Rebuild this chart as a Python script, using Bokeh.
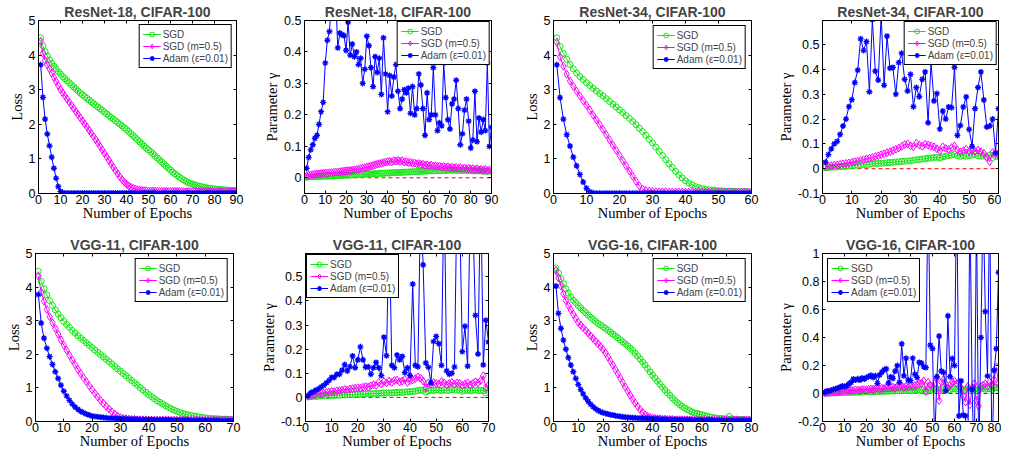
from bokeh.plotting import figure
from bokeh.models import Range1d, FixedTicker, LinearAxis, Span, Legend, LegendItem, CustomJSTickFormatter
from bokeh.layouts import row, column
from bokeh.embed import file_html
from bokeh.resources import INLINE

SANS = "Liberation Sans"
SERIF = "'Liberation Serif', 'Times New Roman', serif"
GREEN = "#14e614"
MAGENTA = "#ff00ff"
BLUE = "#0000ff"

labels = ["SGD", "SGD (m=0.5)", "Adam (\u03b5=0.01)"]
titles = ["ResNet-18, CIFAR-100", "ResNet-18, CIFAR-100", "ResNet-34, CIFAR-100", "ResNet-34, CIFAR-100",
          "VGG-11, CIFAR-100", "VGG-11, CIFAR-100", "VGG-16, CIFAR-100", "VGG-16, CIFAR-100"]
xlabel = "Number of Epochs"
ylabel_loss = "Loss"
ylabel_gamma = "Parameter \u03b3"

xticks_90 = [0, 10, 20, 30, 40, 50, 60, 70, 80, 90]
xticks_60 = [0, 10, 20, 30, 40, 50, 60]
xticks_70 = [0, 10, 20, 30, 40, 50, 60, 70]
xticks_80 = [0, 10, 20, 30, 40, 50, 60, 70, 80]
yticks_loss = [0, 1, 2, 3, 4, 5]
yticks_g1 = [0, 0.1, 0.2, 0.3, 0.4, 0.5]
yticks_g2 = [-0.1, 0, 0.1, 0.2, 0.3, 0.4, 0.5]
yticks_g3 = [-0.2, 0, 0.2, 0.4, 0.6, 0.8, 1]

# ---------------- ResNet-18 loss (90 epochs)
g1 = [4.50,4.27,4.10,3.97,3.86,3.76,3.68,3.60,3.52,3.45,
      3.38,3.32,3.26,3.20,3.14,3.08,3.02,2.96,2.90,2.85,
      2.80,2.75,2.70,2.65,2.60,2.55,2.50,2.45,2.40,2.35,
      2.30,2.25,2.20,2.15,2.10,2.05,2.00,1.95,1.90,1.85,
      1.79,1.73,1.67,1.61,1.55,1.49,1.43,1.37,1.31,1.26,
      1.21,1.15,1.09,1.03,0.97,0.91,0.85,0.79,0.73,0.68,
      0.62,0.57,0.52,0.47,0.43,0.39,0.35,0.32,0.29,0.27,
      0.25,0.23,0.21,0.20,0.18,0.17,0.16,0.15,0.14,0.13,
      0.12,0.12,0.11,0.11,0.10,0.10,0.09,0.09,0.09,0.08]
m1 = [4.40,4.05,3.85,3.72,3.60,3.48,3.36,3.24,3.12,3.00,
      2.91,2.82,2.73,2.64,2.55,2.46,2.37,2.28,2.19,2.10,
      2.01,1.92,1.83,1.74,1.65,1.56,1.46,1.36,1.26,1.16,
      1.06,0.96,0.86,0.76,0.66,0.57,0.48,0.40,0.33,0.27,
      0.22,0.18,0.15,0.13,0.11,0.10,0.09,0.08,0.08,0.07,
      0.07,0.07,0.07,0.06,0.06,0.06,0.06,0.06,0.06,0.06,
      0.06,0.06,0.06,0.06,0.06,0.05,0.05,0.05,0.05,0.05,
      0.05,0.05,0.05,0.05,0.05,0.05,0.05,0.05,0.05,0.05,
      0.05,0.05,0.05,0.05,0.05,0.05,0.05,0.05,0.05,0.05]
a1 = [3.72,2.78,2.15,1.72,1.38,1.05,0.73,0.44,0.20,0.06,
      0.02,0.01,0.01,0.01,0.01,0.01,0.01,0.01,0.01,0.01,
      0.01,0.01,0.01,0.01,0.01,0.01,0.01,0.01,0.01,0.01,
      0.01,0.01,0.01,0.01,0.01,0.01,0.01,0.01,0.01,0.01,
      0.01,0.01,0.01,0.01,0.01,0.01,0.01,0.01,0.01,0.01,
      0.01,0.01,0.01,0.01,0.01,0.01,0.01,0.01,0.01,0.01,
      0.01,0.01,0.01,0.01,0.01,0.01,0.01,0.01,0.01,0.01,
      0.01,0.01,0.01,0.01,0.01,0.01,0.01,0.01,0.01,0.01,
      0.01,0.01,0.01,0.01,0.01,0.01,0.01,0.01,0.01,0.01]

# ---------------- ResNet-18 gamma (90 epochs)
gg1 = [0.002,0.002,0.003,0.003,0.003,0.004,0.004,0.004,0.005,0.005,
       0.005,0.006,0.006,0.006,0.007,0.007,0.007,0.008,0.008,0.008,
       0.009,0.009,0.009,0.010,0.010,0.010,0.011,0.011,0.011,0.012,
       0.012,0.012,0.013,0.013,0.013,0.014,0.014,0.014,0.015,0.015,
       0.015,0.016,0.016,0.016,0.017,0.017,0.017,0.018,0.018,0.018,
       0.019,0.019,0.019,0.020,0.020,0.020,0.021,0.021,0.021,0.022,
       0.022,0.022,0.022,0.023,0.023,0.023,0.023,0.023,0.024,0.024,
       0.024,0.024,0.024,0.024,0.023,0.023,0.023,0.023,0.023,0.023,
       0.022,0.022,0.022,0.022,0.022,0.021,0.021,0.021,0.021,0.021]
gm1 = [0.006,0.008,0.009,0.010,0.011,0.012,0.012,0.013,0.014,0.015,
       0.015,0.016,0.016,0.017,0.018,0.018,0.019,0.020,0.021,0.022,
       0.022,0.023,0.024,0.025,0.026,0.027,0.029,0.030,0.032,0.034,
       0.035,0.037,0.039,0.041,0.043,0.045,0.046,0.048,0.050,0.051,
       0.052,0.050,0.054,0.053,0.055,0.052,0.054,0.050,0.051,0.048,
       0.049,0.046,0.047,0.044,0.045,0.042,0.043,0.040,0.041,0.038,
       0.040,0.037,0.038,0.036,0.037,0.034,0.036,0.033,0.035,0.032,
       0.034,0.031,0.033,0.030,0.032,0.029,0.031,0.028,0.030,0.027,
       0.029,0.026,0.028,0.025,0.027,0.024,0.026,0.023,0.025,0.024]
ga1 = [0.030,0.065,0.089,0.105,0.125,0.135,0.170,0.210,0.240,0.365,
       0.437,0.465,0.560,0.620,0.580,0.413,0.460,0.455,0.452,0.405,
       0.495,0.390,0.425,0.385,0.400,0.360,0.380,0.300,0.345,0.450,
       0.420,0.350,0.290,0.385,0.335,0.380,0.265,0.445,0.330,0.210,
       0.325,0.260,0.320,0.360,0.275,0.220,0.250,0.280,0.270,0.285,
       0.205,0.290,0.200,0.220,0.330,0.295,0.220,0.135,0.270,0.185,
       0.200,0.350,0.200,0.150,0.175,0.165,0.365,0.255,0.185,0.155,
       0.235,0.250,0.310,0.220,0.105,0.140,0.215,0.250,0.180,0.095,
       0.120,0.275,0.115,0.190,0.145,0.185,0.150,0.365,0.100,0.160]

# ---------------- ResNet-34 loss (60 epochs)
g3 = [4.50,4.25,4.05,3.88,3.73,3.60,3.48,3.38,3.29,3.20,
      3.12,3.04,2.96,2.89,2.82,2.74,2.66,2.58,2.50,2.42,
      2.34,2.25,2.17,2.08,1.99,1.89,1.79,1.68,1.57,1.46,
      1.34,1.22,1.10,0.98,0.86,0.75,0.64,0.54,0.45,0.37,
      0.30,0.25,0.20,0.17,0.14,0.12,0.11,0.10,0.09,0.08,
      0.08,0.07,0.07,0.07,0.06,0.06,0.06,0.06,0.05,0.05]
m3 = [4.37,3.95,3.68,3.45,3.25,3.10,2.96,2.82,2.68,2.55,
      2.41,2.27,2.13,1.99,1.85,1.70,1.55,1.40,1.25,1.10,
      0.95,0.80,0.65,0.50,0.35,0.22,0.13,0.09,0.07,0.06,
      0.05,0.05,0.05,0.05,0.04,0.04,0.04,0.04,0.04,0.04,
      0.04,0.04,0.04,0.04,0.04,0.04,0.04,0.04,0.04,0.04,
      0.04,0.04,0.04,0.04,0.04,0.04,0.04,0.04,0.04,0.04]
a3 = [3.72,2.77,2.15,1.70,1.37,1.05,0.80,0.55,0.33,0.15,
      0.05,0.02,0.01,0.01,0.01,0.01,0.01,0.01,0.01,0.01,
      0.01,0.01,0.01,0.01,0.01,0.01,0.01,0.01,0.01,0.01,
      0.01,0.01,0.01,0.01,0.01,0.01,0.01,0.01,0.01,0.01,
      0.01,0.01,0.01,0.01,0.01,0.01,0.01,0.01,0.01,0.01,
      0.01,0.01,0.01,0.01,0.01,0.01,0.01,0.01,0.01,0.01]

# ---------------- ResNet-34 gamma (60 epochs)
gg3 = [0.004,0.005,0.006,0.006,0.007,0.008,0.009,0.010,0.011,0.012,
       0.013,0.014,0.015,0.016,0.017,0.018,0.019,0.020,0.021,0.022,
       0.023,0.024,0.025,0.026,0.027,0.028,0.029,0.030,0.031,0.032,
       0.034,0.036,0.037,0.039,0.040,0.042,0.043,0.045,0.046,0.043,
       0.048,0.050,0.052,0.055,0.058,0.052,0.050,0.053,0.050,0.052,
       0.055,0.057,0.052,0.050,0.052,0.048,0.055,0.045,0.050,0.048]
gm3 = [0.008,0.010,0.012,0.014,0.015,0.017,0.019,0.021,0.023,0.026,
       0.028,0.030,0.033,0.036,0.039,0.042,0.045,0.049,0.052,0.056,
       0.060,0.064,0.068,0.073,0.078,0.083,0.090,0.097,0.100,0.092,
       0.088,0.103,0.095,0.090,0.098,0.095,0.092,0.088,0.080,0.072,
       0.088,0.082,0.078,0.085,0.092,0.075,0.068,0.072,0.078,0.070,
       0.074,0.070,0.075,0.068,0.062,0.045,0.028,0.065,0.060,0.055]
ga3 = [0.026,0.057,0.080,0.100,0.110,0.138,0.172,0.200,0.250,0.278,
       0.347,0.397,0.523,0.476,0.512,0.310,0.600,0.393,0.357,0.620,
       0.336,0.534,0.405,0.408,0.300,0.427,0.465,0.360,0.313,0.380,
       0.250,0.327,0.290,0.360,0.390,0.185,0.428,0.273,0.303,0.160,
       0.232,0.200,0.249,0.246,0.408,0.134,0.174,0.249,0.289,0.158,
       0.090,0.242,0.327,0.390,0.277,0.168,0.172,0.200,0.064,0.242]

# ---------------- VGG-11 loss (70 epochs)
g5 = [4.47,4.17,3.95,3.77,3.60,3.45,3.32,3.20,3.09,2.98,
      2.89,2.80,2.71,2.63,2.55,2.48,2.41,2.34,2.27,2.20,
      2.13,2.06,1.99,1.92,1.85,1.78,1.71,1.64,1.57,1.50,
      1.43,1.36,1.29,1.22,1.15,1.08,1.01,0.94,0.87,0.80,
      0.74,0.68,0.62,0.57,0.52,0.47,0.42,0.38,0.34,0.30,
      0.27,0.24,0.22,0.20,0.18,0.16,0.15,0.13,0.12,0.11,
      0.10,0.09,0.09,0.08,0.08,0.07,0.07,0.07,0.06,0.06]
m5 = [4.33,3.85,3.58,3.33,3.12,2.94,2.77,2.60,2.43,2.27,
      2.12,1.97,1.83,1.69,1.55,1.42,1.30,1.18,1.06,0.95,
      0.84,0.73,0.63,0.54,0.45,0.37,0.29,0.22,0.16,0.12,
      0.09,0.08,0.07,0.06,0.06,0.05,0.05,0.05,0.05,0.04,
      0.04,0.04,0.04,0.04,0.04,0.04,0.04,0.04,0.04,0.04,
      0.04,0.04,0.04,0.04,0.04,0.04,0.04,0.04,0.04,0.04,
      0.04,0.04,0.04,0.04,0.04,0.04,0.04,0.04,0.04,0.04]
a5 = [3.78,2.93,2.48,2.18,1.93,1.70,1.48,1.28,1.08,0.90,
      0.76,0.63,0.52,0.43,0.36,0.30,0.26,0.22,0.19,0.16,
      0.15,0.14,0.13,0.12,0.11,0.10,0.10,0.09,0.09,0.08,
      0.08,0.08,0.07,0.07,0.07,0.07,0.06,0.06,0.06,0.06,
      0.06,0.05,0.05,0.05,0.05,0.05,0.05,0.04,0.04,0.04,
      0.04,0.04,0.04,0.04,0.03,0.03,0.03,0.03,0.03,0.03,
      0.03,0.03,0.03,0.03,0.02,0.02,0.02,0.02,0.02,0.02]

# ---------------- VGG-11 gamma (70 epochs)
gg5 = [0.002,0.003,0.004,0.004,0.005,0.006,0.006,0.007,0.007,0.008,
       0.008,0.009,0.009,0.010,0.010,0.011,0.011,0.012,0.012,0.013,
       0.013,0.014,0.014,0.015,0.015,0.016,0.016,0.017,0.017,0.018,
       0.018,0.019,0.019,0.020,0.020,0.021,0.021,0.022,0.023,0.024,
       0.025,0.026,0.028,0.030,0.029,0.022,0.027,0.030,0.028,0.031,
       0.030,0.028,0.031,0.029,0.030,0.032,0.030,0.031,0.029,0.026,
       0.028,0.030,0.027,0.029,0.031,0.028,0.030,0.027,0.018,0.025]
gm5 = [0.005,0.008,0.010,0.012,0.015,0.017,0.018,0.020,0.022,0.025,
       0.024,0.027,0.028,0.030,0.033,0.031,0.035,0.036,0.038,0.040,
       0.038,0.042,0.045,0.043,0.048,0.052,0.050,0.062,0.055,0.065,
       0.060,0.068,0.062,0.070,0.072,0.065,0.068,0.075,0.062,0.070,
       0.072,0.078,0.085,0.080,0.068,0.040,0.060,0.055,0.062,0.058,
       0.055,0.065,0.060,0.052,0.058,0.062,0.055,0.060,0.058,0.050,
       0.055,0.060,0.052,0.058,0.065,0.060,0.070,0.090,0.040,0.050]
ga5 = [0.007,0.019,0.023,0.030,0.036,0.043,0.050,0.060,0.070,0.083,
       0.083,0.096,0.096,0.113,0.136,0.110,0.127,0.172,0.123,0.156,
       0.210,0.156,0.125,0.127,0.096,0.123,0.145,0.123,0.090,0.250,
       0.173,0.750,0.133,0.123,0.176,0.156,0.170,0.103,0.123,0.090,
       0.470,0.133,0.127,0.800,0.550,0.143,0.125,0.060,0.232,0.253,
       0.223,0.133,0.900,0.110,0.096,0.100,0.127,0.900,0.750,0.190,
       0.295,0.130,0.800,0.750,0.340,0.180,0.900,0.135,0.320,0.230]

# ---------------- VGG-16 loss (80 epochs)
g7 = [4.57,4.42,4.25,4.10,3.95,3.82,3.71,3.61,3.53,3.45,
      3.38,3.31,3.24,3.17,3.10,3.04,2.98,2.92,2.87,2.82,
      2.77,2.71,2.66,2.60,2.55,2.49,2.43,2.37,2.31,2.25,
      2.18,2.11,2.03,1.95,1.86,1.77,1.68,1.58,1.48,1.38,
      1.29,1.20,1.11,1.02,0.94,0.86,0.78,0.70,0.63,0.56,
      0.50,0.45,0.40,0.36,0.32,0.28,0.25,0.24,0.22,0.20,
      0.18,0.16,0.14,0.12,0.11,0.10,0.09,0.09,0.08,0.08,
      0.15,0.08,0.07,0.07,0.06,0.06,0.06,0.05,0.05,0.05]
m7 = [4.50,4.27,4.03,3.80,3.60,3.45,3.32,3.19,3.07,2.95,
      2.87,2.79,2.71,2.63,2.55,2.47,2.39,2.31,2.23,2.15,
      2.04,1.92,1.80,1.68,1.55,1.42,1.29,1.16,1.03,0.90,
      0.78,0.66,0.55,0.45,0.35,0.27,0.20,0.15,0.12,0.10,
      0.09,0.08,0.08,0.07,0.07,0.06,0.06,0.06,0.05,0.05,
      0.05,0.05,0.05,0.05,0.05,0.04,0.04,0.04,0.04,0.04,
      0.04,0.04,0.04,0.04,0.04,0.04,0.04,0.04,0.04,0.04,
      0.04,0.04,0.04,0.04,0.04,0.04,0.04,0.04,0.04,0.04]
a7 = [4.03,3.22,2.77,2.42,2.15,1.90,1.68,1.48,1.28,1.10,
      0.95,0.82,0.70,0.60,0.51,0.44,0.38,0.33,0.29,0.26,
      0.24,0.22,0.20,0.19,0.17,0.16,0.15,0.14,0.13,0.12,
      0.12,0.11,0.11,0.10,0.10,0.10,0.09,0.09,0.09,0.08,
      0.08,0.08,0.07,0.07,0.07,0.06,0.06,0.06,0.06,0.05,
      0.05,0.05,0.05,0.05,0.05,0.04,0.04,0.04,0.04,0.04,
      0.04,0.04,0.04,0.04,0.03,0.03,0.03,0.03,0.03,0.03,
      0.03,0.03,0.03,0.03,0.03,0.03,0.03,0.03,0.03,0.03]

# ---------------- VGG-16 gamma (80 epochs)
gg7 = [0.002,0.003,0.003,0.004,0.004,0.005,0.005,0.006,0.006,0.007,
       0.007,0.008,0.008,0.009,0.009,0.010,0.010,0.011,0.011,0.012,
       0.012,0.013,0.013,0.014,0.014,0.015,0.015,0.016,0.016,0.017,
       0.017,0.018,0.018,0.019,0.019,0.020,0.020,0.021,0.021,0.022,
       0.022,0.023,0.023,0.024,0.025,0.030,0.010,0.028,0.026,0.030,
       0.028,0.035,0.020,0.032,0.030,0.025,0.040,0.028,0.032,0.035,
       0.030,0.033,0.028,0.020,0.030,0.035,0.025,0.032,0.030,0.020,
       0.028,0.032,0.035,0.030,0.033,0.035,0.030,0.038,0.045,0.040]
gm7 = [0.005,0.007,0.008,0.010,0.011,0.012,0.013,0.015,0.016,0.018,
       0.018,0.020,0.022,0.021,0.024,0.025,0.023,0.027,0.028,0.026,
       0.030,0.032,0.029,0.034,0.035,0.032,0.038,0.036,0.040,0.038,
       0.042,0.045,0.040,0.048,0.046,0.050,0.044,0.052,0.048,0.055,
       0.050,0.058,0.062,0.070,0.075,0.090,0.020,0.080,0.060,0.050,
       0.070,0.110,-0.050,0.080,0.100,0.070,0.040,0.060,0.080,0.090,
       0.070,0.080,0.040,-0.020,-0.060,0.050,-0.080,0.040,0.070,-0.050,
       -0.090,0.050,0.060,0.070,0.050,0.080,0.060,0.100,0.190,0.070]
ga7 = [0.007,0.016,0.018,0.023,0.030,0.034,0.039,0.046,0.053,0.050,
       0.055,0.069,0.080,0.103,0.096,0.105,0.096,0.110,0.103,0.114,
       0.121,0.130,0.114,0.126,0.073,0.133,0.153,0.169,0.176,0.075,
       0.119,0.108,0.160,0.200,0.080,0.355,0.126,0.252,0.096,0.092,
       0.252,0.137,0.114,0.222,0.217,0.190,0.185,1.500,0.345,0.320,
       -0.350,0.120,0.410,0.160,0.150,0.020,0.555,0.120,0.250,0.200,
       1.500,-0.160,0.090,-0.155,-0.160,-0.600,1.400,0.030,-0.500,1.300,
       -0.500,0.400,1.400,0.585,0.125,1.400,-0.500,0.165,0.320,0.865]


def fmt():
    return CustomJSTickFormatter(code="return String(Math.round(tick*100)/100);")


def style_axis(ax, ticks, standoff, lab_standoff):
    ax.ticker = FixedTicker(ticks=ticks)
    ax.formatter = fmt()
    ax.major_label_text_font = SANS
    ax.major_label_text_font_size = "12.5px"
    ax.major_label_text_color = "black"
    ax.major_label_standoff = standoff
    ax.axis_label_text_font = SERIF
    ax.axis_label_text_font_size = "14.5px"
    ax.axis_label_text_font_style = "normal"
    ax.axis_label_text_color = "black"
    ax.axis_label_standoff = lab_standoff
    ax.major_tick_in = 3
    ax.major_tick_out = 0
    ax.major_tick_line_color = "black"
    ax.minor_tick_line_color = None
    ax.axis_line_color = "black"


def make_fig(title, ylabel, xticks, yticks, yr, series, loc, lmargin, w, h, bl, br, bt, bb, zero):
    p = figure(width=w, height=h, output_backend="svg", toolbar_location=None,
               x_range=Range1d(xticks[0], xticks[-1]), y_range=Range1d(yr[0], yr[1]),
               min_border_left=bl, min_border_right=br, min_border_top=bt, min_border_bottom=bb)
    p.title.text = title
    p.title.text_font = SANS
    p.title.text_font_size = "14px"
    p.title.text_font_style = "bold"
    p.title.align = "center"
    p.title.standoff = 1
    p.title.offset = 0
    p.xgrid.visible = False
    p.ygrid.visible = False
    p.outline_line_color = "black"
    p.outline_line_alpha = 1
    p.background_fill_color = "white"
    p.border_fill_color = "white"
    style_axis(p.xaxis[0], xticks, 1, -2)
    style_axis(p.yaxis[0], yticks, 3, 1)
    p.xaxis[0].axis_label = xlabel
    p.yaxis[0].axis_label = ylabel
    for side, ticks in (("right", yticks), ("above", xticks)):
        ax = LinearAxis(ticker=FixedTicker(ticks=ticks), major_label_text_font_size="0px",
                        major_label_standoff=0, major_tick_in=3, major_tick_out=0,
                        minor_tick_line_color=None, axis_line_color="black",
                        formatter=CustomJSTickFormatter(code="return '';"))
        p.add_layout(ax, side)
    if zero:
        p.add_layout(Span(location=0, dimension="width", line_color="red",
                          line_dash="4 3", line_width=1, level="underlay"))
    gy, my, ay = series
    xs = list(range(1, len(gy) + 1))
    l1 = p.line(xs, gy, line_color=GREEN, line_width=1)
    s1 = p.scatter(xs, gy, marker="circle", size=6, line_color=GREEN, fill_color=None, line_width=1)
    xs = list(range(1, len(my) + 1))
    l2 = p.line(xs, my, line_color=MAGENTA, line_width=1)
    s2 = p.scatter(xs, my, marker="diamond", size=8, line_color=MAGENTA, fill_color=None, line_width=1)
    xs = list(range(1, len(ay) + 1))
    l3 = p.line(xs, ay, line_color=BLUE, line_width=1)
    s3 = p.scatter(xs, ay, marker="asterisk", size=6, line_color=BLUE, line_width=1.3)
    items = [LegendItem(label=labels[0], renderers=[l1, s1]),
             LegendItem(label=labels[1], renderers=[l2, s2]),
             LegendItem(label=labels[2], renderers=[l3, s3])]
    leg = Legend(items=items, location=loc, margin=lmargin, padding=3, spacing=0,
                 label_height=12, glyph_height=12, glyph_width=18, label_standoff=2,
                 label_text_font=SANS, label_text_font_size="10px",
                 border_line_color="black", border_line_width=1, border_line_alpha=1,
                 background_fill_color="white", background_fill_alpha=1)
    p.add_layout(leg)
    return p


H1, H2 = 223, 228
f1 = make_fig(titles[0], ylabel_loss, xticks_90, yticks_loss, (0, 5), (g1, m1, a1),
              "top_right", 4, 257, H1, 38, 21, 20, 28, False)
f2 = make_fig(titles[1], ylabel_gamma, xticks_90, yticks_g1, (-0.05, 0.5), (gg1, gm1, ga1),
              "top_right", 1, 250, H1, 47, 16, 20, 28, True)
f3 = make_fig(titles[2], ylabel_loss, xticks_60, yticks_loss, (0, 5), (g3, m3, a3),
              "top_right", 5, 257, H1, 46, 13, 20, 28, False)
f4 = make_fig(titles[3], ylabel_gamma, xticks_60, yticks_g2, (-0.1, 0.597), (gg3, gm3, ga3),
              "top_right", 1, 237, H1, 58, 3, 20, 28, True)
f5 = make_fig(titles[4], ylabel_loss, xticks_70, yticks_loss, (0, 5), (g5, m5, a5),
              "top_right", 5, 257, H2, 35, 24, 30, 28, False)
f6 = make_fig(titles[5], ylabel_gamma, xticks_70, yticks_g2, (-0.1, 0.597), (gg5, gm5, ga5),
              "top_left", 1, 250, H2, 47, 19, 30, 28, True)
f7 = make_fig(titles[6], ylabel_loss, xticks_80, yticks_loss, (0, 5), (g7, m7, a7),
              "top_right", 5, 257, H2, 46, 13, 30, 28, False)
f8 = make_fig(titles[7], ylabel_gamma, xticks_80, yticks_g3, (-0.2, 1.0), (gg7, gm7, ga7),
              "top_left", 5, 237, H2, 58, 3, 30, 28, True)

layout = column(row(f1, f2, f3, f4), row(f5, f6, f7, f8))
open("out.html", "w").write(file_html(layout, INLINE))
